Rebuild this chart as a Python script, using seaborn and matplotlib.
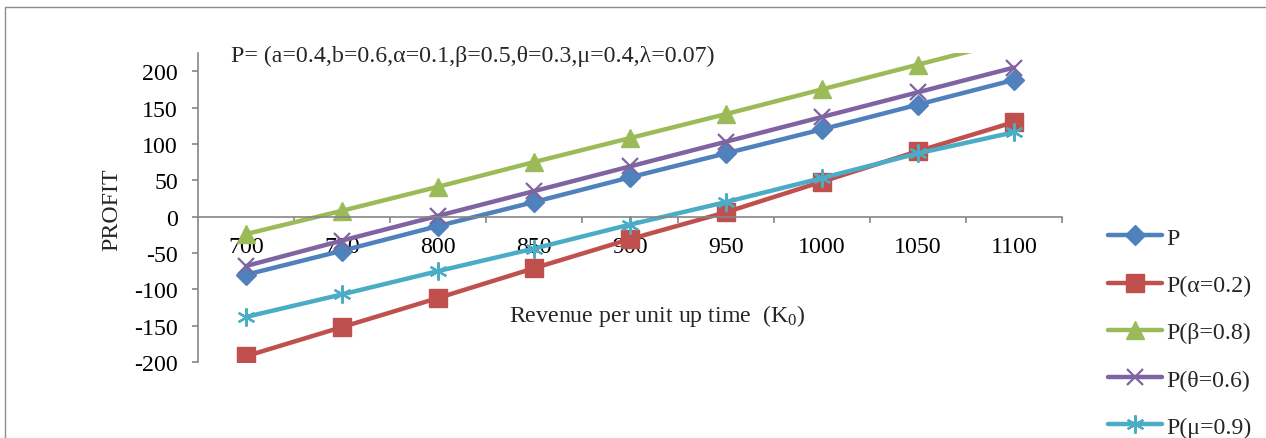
import numpy as np
import matplotlib
matplotlib.use("Agg")
import matplotlib.pyplot as plt
from matplotlib.patches import Rectangle
from matplotlib.ticker import FixedLocator
import seaborn as sns

sns.set_theme(style="white")
plt.rcParams['font.family'] = ['Liberation Serif', 'DejaVu Serif']
plt.rcParams['mathtext.fontset'] = 'custom'
plt.rcParams['mathtext.rm'] = 'Liberation Serif'
plt.rcParams['mathtext.it'] = 'Liberation Serif:italic'
plt.rcParams['axes.unicode_minus'] = False

#####################################################################
# data
k0 = [700, 750, 800, 850, 900, 950, 1000, 1050, 1100]
p_base = [-80, -47, -13, 20, 54, 87, 120, 154, 188]
p_alpha = [-192, -152, -112, -71, -31, 6, 48, 90, 130]
p_beta = [-24, 8, 41, 75, 108, 141, 175, 209, 243]
p_theta = [-68, -33, 1, 35, 69, 103, 137, 171, 205]
p_mu = [-138, -107, -75, -44, -11, 20, 53, 87, 116]
labels = ['P', 'P(α=0.2)', 'P(β=0.8)', 'P(θ=0.6)', 'P(μ=0.9)']
colors = ['#4F81BD', '#C0504D', '#9BBB59', '#8064A2', '#4BACC6']
yticks = [-200, -150, -100, -50, 0, 50, 100, 150, 200]
#####################################################################

W, H = 1266, 439
FS = 17.2
fig = plt.figure(figsize=(W / 100, H / 100), dpi=100)
fig.patches.append(Rectangle((5 / W, -0.1), 1.2, 1 - 8 / H + 0.1, transform=fig.transFigure,
                             fill=False, edgecolor='#8c8c8c', linewidth=1))
ax = fig.add_axes([198 / W, 1 - 363 / H, 864 / W, 309 / H])

series = [p_base, p_alpha, p_beta, p_theta, p_mu]
markers = ['D', 's', '^', 'x', (6, 2, 0)]
msizes = [10, 13, 13, 12, 13]
mews = [1, 1, 1, 1.6, 1.6]
for vals, lab, col, mk, ms, mw in zip(series, labels, colors, markers, msizes, mews):
    sns.lineplot(x=k0, y=vals, ax=ax, color=col, marker=mk, markersize=ms,
                 markeredgecolor=col, markeredgewidth=mw, linewidth=3.2, label=lab)

ax.set_xlim(675, 1125)
ax.set_ylim(-200, 225)
ax.set_yticks(yticks)
ax.set_xticks(k0)
ax.set_xticklabels([str(v) for v in k0])
ax.xaxis.set_minor_locator(FixedLocator(np.arange(725, 1126, 50)))

for s in ['top', 'right']:
    ax.spines[s].set_visible(False)
ax.spines['bottom'].set_position(('data', 0))
for s in ['left', 'bottom']:
    ax.spines[s].set_color('#868686')
    ax.spines[s].set_linewidth(1.2)

ax.tick_params(axis='x', which='major', length=0, pad=14, labelsize=FS, colors='black')
ax.tick_params(axis='x', which='minor', length=4.5, width=1.2, color='#868686', direction='out', bottom=True)
ax.tick_params(axis='y', which='major', length=4.5, width=1.2, color='#868686', direction='out',
               pad=10, labelsize=FS, labelcolor='black', left=True)

ax.set_xlabel('Revenue per unit up time  (K$_0$)', fontsize=FS)
ax.xaxis.set_label_coords((657 - 198) / 864, (363 - 316) / 309)
ax.xaxis.label.set_va('center')
ax.set_ylabel('PROFIT', fontsize=FS)
ax.yaxis.set_label_coords((112 - 198) / 864, (363 - 210) / 309)
ax.yaxis.label.set_va('center')

fig.text(231 / W, 1 - 56 / H, 'P= (a=0.4,b=0.6,α=0.1,β=0.5,θ=0.3,μ=0.4,λ=0.07)',
         fontsize=FS, ha='left', va='center')

handles, labs = ax.get_legend_handles_labels()
ax.get_legend().remove()
fig.legend(handles, labs, loc='upper left', bbox_to_anchor=(1108 / W, 1 - 228 / H),
           frameon=False, borderpad=0, borderaxespad=0, fontsize=FS,
           handlelength=2.25, handletextpad=0.2, labelspacing=1.07)

fig.savefig('out.png', dpi=100)
